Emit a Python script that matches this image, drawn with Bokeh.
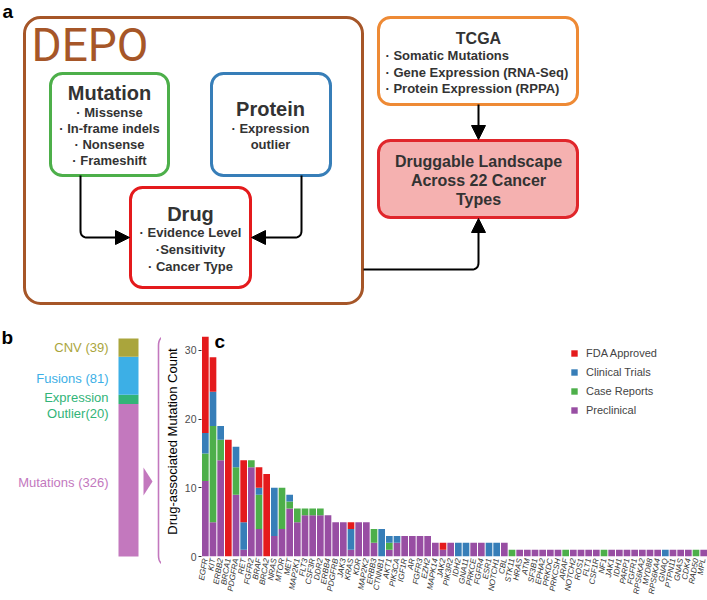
import numpy as np
from bokeh.plotting import figure
from bokeh.models import (Range1d, BoxAnnotation, Arrow, NormalHead, ColumnDataSource,
                          FactorRange, Legend, LegendItem, FixedTicker)
from bokeh.layouts import column, row
from bokeh.core.properties import value
from bokeh.embed import file_html
from bokeh.resources import INLINE

FONT = "Liberation Sans"

# ---------------- data ----------------
genes = ["EGFR", "KIT", "ERBB2", "BRCA1", "PDGFRA", "RET", "FGFR2", "BRAF", "BRCA2", "NRAS",
         "MTOR", "MET", "MAP2K1", "FLT3", "CSF3R", "DDR2", "ERBB4", "PDGFRB", "JAK3", "KRAS",
         "KDR", "MAP2K2", "ERBB3", "CTNNB1", "AKT1", "PIK3CA", "IGF1R", "AR", "FGFR3", "EZH2",
         "MAPK14", "JAK2", "PIK3R2", "IDH2", "GNA11", "PRKCE", "FGFR4", "ESR1", "NOTCH1", "CBL",
         "STK11", "HRAS", "ATM", "SF3B1", "EPHA2", "PRKDC", "PRKCSH", "ARAF", "NOTCH2", "ROS1",
         "FLT1", "CSF1R", "NF1", "JAK1", "IDH1", "PARP1", "FGFR1", "RPS6KA2", "MYD88", "RPS6KA4",
         "GNAQ", "PTPN11", "GNAS", "CDK4", "RAD50", "MPL"]
preclinical = [11, 5, 14, 0, 9, 1, 13, 4, 0, 3,
               4, 7, 5, 6, 6, 6, 6, 5, 5, 1,
               5, 5, 2, 0, 1, 2, 3, 3, 3, 3,
               2, 1, 2, 0, 0, 2, 2, 0, 0, 2,
               0, 1, 1, 1, 1, 1, 1, 0, 1, 1,
               1, 1, 0, 1, 1, 1, 1, 1, 1, 1,
               0, 1, 1, 1, 0, 1]
case_reports = [4, 14, 3, 0, 4, 0, 1, 5, 0, 0,
                6, 1, 2, 1, 1, 1, 0, 0, 0, 0,
                0, 0, 2, 0, 1, 0, 0, 0, 0, 0,
                0, 0, 0, 0, 0, 0, 0, 0, 0, 0,
                1, 0, 0, 0, 0, 0, 0, 1, 0, 0,
                0, 0, 1, 0, 0, 0, 0, 0, 0, 0,
                0, 0, 0, 0, 1, 0]
clinical_trials = [3, 5, 2, 0, 3, 4, 0, 1, 0, 7,
                   0, 1, 0, 0, 0, 0, 0, 0, 0, 3,
                   0, 0, 0, 4, 1, 1, 0, 0, 0, 0,
                   0, 0, 0, 2, 2, 0, 0, 2, 2, 0,
                   0, 0, 0, 0, 0, 0, 0, 0, 0, 0,
                   0, 0, 0, 0, 0, 0, 0, 0, 0, 0,
                   1, 0, 0, 0, 0, 0]
fda_approved = [14, 5, 0, 17, 0, 9, 0, 3, 12, 0,
                0, 0, 0, 0, 0, 0, 0, 0, 0, 1,
                0, 0, 0, 0, 0, 0, 0, 0, 0, 0,
                0, 1, 0, 0, 0, 0, 0, 0, 0, 0,
                0, 0, 0, 0, 0, 0, 0, 0, 0, 0,
                0, 0, 0, 0, 0, 0, 0, 0, 0, 0,
                0, 0, 0, 0, 0, 0]
evidence_labels = ["Preclinical", "Case Reports", "Clinical Trials", "FDA Approved"]

b_categories = ["Mutations", "Expression Outlier", "Fusions", "CNV"]
b_counts = [326, 20, 81, 39]

# ---------------- colours ----------------
RED, BLUE, GREEN, PURPLE = "#E41A1C", "#377EB8", "#4DAF4A", "#984EA3"
BROWN, ORANGE = "#A65628", "#EE8A35"
B_COLORS = ["#C378BE", "#32B478", "#3CAFE6", "#AAA53C"]
TXT = "#333333"

W = 707
HA = 308
HB = 600 - HA
XB = 161
TOPB = 18         # top border of bottom panels
BOTB = 44         # bottom border of bottom panels
Y0 = 556          # page y of value 0 in panel c
PXC = 6.867       # px per unit in panel c


def X(x):
    return x


def Y(y):
    return HA - y


def rounded(pts, r=7, n=10):
    xs, ys = [pts[0][0]], [pts[0][1]]
    for i in range(1, len(pts) - 1):
        ax, ay = pts[i - 1]
        px, py = pts[i]
        bx, by = pts[i + 1]
        d1 = np.hypot(px - ax, py - ay)
        d2 = np.hypot(bx - px, by - py)
        p1 = (px - (px - ax) / d1 * r, py - (py - ay) / d1 * r)
        p2 = (px + (bx - px) / d2 * r, py + (by - py) / d2 * r)
        for t in np.linspace(0, 1, n):
            xs.append((1 - t) ** 2 * p1[0] + 2 * (1 - t) * t * px + t ** 2 * p2[0])
            ys.append((1 - t) ** 2 * p1[1] + 2 * (1 - t) * t * py + t ** 2 * p2[1])
    xs.append(pts[-1][0])
    ys.append(pts[-1][1])
    return np.array(xs), np.array(ys)


# ================= panel a (diagram) =================
pa = figure(width=W, height=HA, x_range=Range1d(0, W), y_range=Range1d(0, HA),
            output_backend="svg", toolbar_location=None, min_border=0,
            x_axis_location=None, y_axis_location=None)
pa.grid.visible = False
pa.outline_line_color = None


def box(l, r, t, b, color, fill=None, rad=12, lw=3):
    pa.add_layout(BoxAnnotation(left=X(l), right=X(r), top=Y(t), bottom=Y(b),
                                border_radius=rad, line_color=color, line_width=lw,
                                line_alpha=1.0,
                                fill_color=fill if fill else "white",
                                fill_alpha=1 if fill else 0, level="underlay"))


box(24, 362, 17, 303, BROWN, rad=16)
box(50, 168, 73, 175, GREEN)
box(211, 330, 73, 175, BLUE)
box(130, 250, 187, 287, RED)
box(378, 577, 17, 104, ORANGE)
box(378, 577, 140, 217, "#E0262B", fill="#F5B1B0")


def txt(x, y, s, size, bold=True, color=TXT, align="center", font=FONT):
    pa.text(x=[X(x)], y=[Y(y)], text=[s], text_font=value(font),
            text_font_style="bold" if bold else "normal", text_font_size=size,
            text_color=color, text_align=align, text_baseline="middle")


txt(2, 10.5, "a", "19px", color="black", align="left")
txt(31, 44, "DEPO", "46px", bold=False, color=BROWN, align="left", font="Roboto")

txt(109, 92, "Mutation", "20px")
for s, yy in zip(["\u00b7 Missense", "\u00b7 In-frame indels", "\u00b7 Nonsense", "\u00b7 Frameshift"],
                 [112, 128, 144, 160]):
    txt(109, yy, s, "13px")

txt(270, 108, "Protein", "20px")
txt(270, 128, "\u00b7 Expression", "13px")
txt(270, 144, "outlier", "13px")

txt(190, 213, "Drug", "20px")
for s, yy in zip(["\u00b7 Evidence Level", "\u00b7Sensitivity", "\u00b7 Cancer Type"], [232, 249, 266]):
    txt(190, yy, s, "13px")

txt(478, 38, "TCGA", "16px")
for s, yy in zip(["\u00b7 Somatic Mutations", "\u00b7 Gene Expression (RNA-Seq)",
                  "\u00b7 Protein Expression (RPPA)"], [55, 72, 88]):
    txt(385, yy, s, "13px", align="left")

for s, yy in zip(["Druggable Landscape", "Across 22 Cancer", "Types"], [161, 180, 199]):
    txt(478, yy, s, "16px")

# connectors
for pts, end in [([(80, 175), (80, 237), (118, 237)], (129, 237)),
                 ([(301, 175), (301, 237), (262, 237)], (251, 237)),
                 ([(478, 104), (478, 126)], (478, 139)),
                 ([(363, 269), (478, 269), (478, 230)], (478, 218))]:
    xs, ys = rounded(pts)
    pa.line(X(xs), Y(ys), line_color="black", line_width=2)
    sx, sy = pts[-1]
    pa.add_layout(Arrow(end=NormalHead(size=14, fill_color="black", line_color="black"),
                        x_start=X(sx), y_start=Y(sy), x_end=X(end[0]), y_end=Y(end[1]),
                        line_color="black", line_width=2))

# ================= panel b =================
pb = figure(width=XB, height=HB, output_backend="svg", toolbar_location=None,
            x_axis_location=None, y_axis_location=None)
has_fa = "frame_align" in pb.properties()
if has_fa:
    pb.frame_align = False
    pb.min_border = 0
    yb0, yb1 = 600, HA
else:
    pb.min_border_left = 0
    pb.min_border_right = 0
    pb.min_border_top = TOPB
    pb.min_border_bottom = BOTB
    yb0, yb1 = 600 - BOTB, HA + TOPB
pb.x_range = Range1d(0, XB)
pb.y_range = Range1d(yb0, yb1)
pb.grid.visible = False
pb.outline_line_color = None
PX = 218 / sum(b_counts)
pb.extra_y_ranges = {"count": Range1d(start=(Y0 - yb0) / PX, end=(Y0 - yb1) / PX)}
tops = np.cumsum(b_counts)
bots = tops - np.array(b_counts)
pb.vbar(x=[128] * 4, width=20, bottom=bots, top=tops, color=B_COLORS,
        line_color=None, y_range_name="count")

for s, yy, c in [("CNV (39)", 347, B_COLORS[3]), ("Fusions (81)", 378, B_COLORS[2]),
                 ("Expression", 397, B_COLORS[1]), ("Outlier(20)", 413, B_COLORS[1]),
                 ("Mutations (326)", 482, B_COLORS[0])]:
    pb.text(x=[108], y=[yy], text=[s], text_font=value(FONT), text_font_size="13px",
            text_color=c, text_align="right", text_baseline="middle")
pb.text(x=[1], y=[337], text=["b"], text_font=value(FONT), text_font_style="bold",
        text_font_size="19px", text_color="black", text_align="left", text_baseline="middle")
pb.patch(x=[143, 143, 152], y=[467, 495, 481], color=B_COLORS[0], line_color=None)
bot_arm = 565 if has_fa else yb0 - 1
top_arm = 335 if has_fa else max(335, yb1 + 1)
bx, by = rounded([(175, top_arm), (158, top_arm), (158, bot_arm), (175, bot_arm)], r=10)
pb.line(bx, by, line_color=B_COLORS[0], line_width=1.6)

# ================= panel c =================
ymax = (Y0 - (HA + TOPB)) / PXC
pc = figure(width=W - XB, height=HB, x_range=FactorRange(factors=genes, range_padding=0),
            y_range=Range1d(0, ymax), output_backend="svg", toolbar_location=None,
            min_border_left=39, min_border_right=0, min_border_top=TOPB, min_border_bottom=BOTB)
if has_fa:
    pc.frame_align = False
src = ColumnDataSource(dict(gene=genes, pre=preclinical, case=case_reports,
                            clin=clinical_trials, fda=fda_approved))
rs = pc.vbar_stack(["pre", "case", "clin", "fda"], x="gene", width=0.87,
                   color=[PURPLE, GREEN, BLUE, RED], line_color=None, source=src)
items = [LegendItem(label=evidence_labels[i], renderers=[rs[i]]) for i in [3, 2, 1, 0]]
legend = Legend(items=items, location=(369, 139), label_text_font=FONT,
                label_text_font_size="11px", glyph_width=8, glyph_height=8,
                label_standoff=8, spacing=4, label_height=15, padding=0, margin=0,
                border_line_color=None, background_fill_alpha=0)
pc.add_layout(legend)

pc.text(x=[1.7], y=[(Y0 - 340.5) / PXC], text=["c"], text_font=value(FONT),
        text_font_style="bold", text_font_size="19px", text_color="black",
        text_align="left", text_baseline="middle")

pc.grid.visible = False
pc.outline_line_color = None
pc.xaxis.major_label_orientation = 1.396
pc.xaxis.major_label_text_font = FONT
pc.xaxis.major_label_text_font_style = "italic"
pc.xaxis.major_label_text_font_size = "8px"
pc.xaxis.major_label_text_color = TXT
pc.xaxis.major_tick_line_color = None
pc.xaxis.major_tick_out = 0
pc.xaxis.major_tick_in = 0
pc.xaxis.axis_line_color = None
pc.xaxis.major_label_standoff = 2
pc.yaxis.ticker = FixedTicker(ticks=[0, 10, 20, 30])
pc.yaxis.axis_line_color = None
pc.yaxis.minor_tick_line_color = None
pc.yaxis.major_tick_out = 3
pc.yaxis.major_tick_in = 0
pc.yaxis.major_tick_line_color = TXT
pc.yaxis.major_label_text_font = FONT
pc.yaxis.major_label_text_font_size = "10.5px"
pc.yaxis.major_label_text_color = "#4D4D4D"
pc.yaxis.major_label_standoff = 2
pc.yaxis.axis_label = "Drug-associated Mutation Count"
pc.yaxis.axis_label_text_font = FONT
pc.yaxis.axis_label_text_font_style = "normal"
pc.yaxis.axis_label_text_font_size = "13px"
pc.yaxis.axis_label_text_color = "black"
pc.yaxis.axis_label_standoff = 2

layout = column(pa, row(pb, pc))
open("out.html", "w").write(file_html(layout, INLINE))
